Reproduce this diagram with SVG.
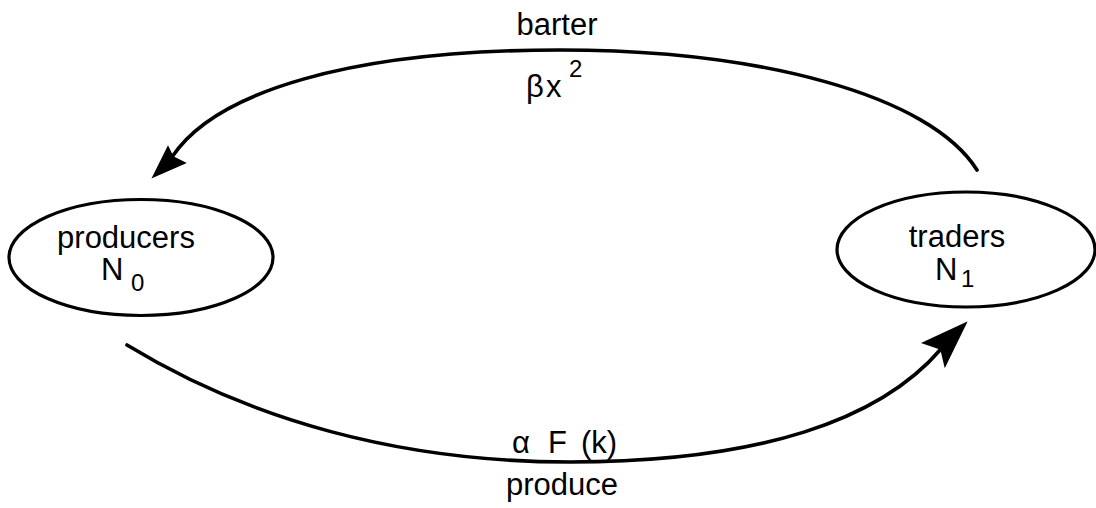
<svg xmlns="http://www.w3.org/2000/svg" width="1096" height="508" viewBox="0 0 1096 508">
<style>
.node{fill:none;stroke:#000;stroke-width:3.2}
.edge{fill:none;stroke:#000;stroke-width:3.6;stroke-linecap:round}
.head{fill:#000;stroke:#000;stroke-width:1.5;stroke-linejoin:miter}
text{font-family:"Liberation Sans",Arial,sans-serif;fill:#000}
.lbl{font-size:31px;text-anchor:middle}
.sub{font-size:24px}
</style>
<rect width="1096" height="508" fill="#fff"/>
<g id="producers">
<ellipse class="node" cx="141" cy="257.5" rx="132" ry="58"/>
<text class="lbl" x="126" y="248">producers</text>
<text x="101" y="280" font-size="31">N</text>
<text class="sub" x="131" y="291">0</text>
</g>
<g id="traders">
<ellipse class="node" cx="966" cy="249.5" rx="129" ry="57.5"/>
<text class="lbl" x="957" y="247">traders</text>
<text x="935" y="280" font-size="31">N</text>
<text class="sub" x="961" y="287">1</text>
</g>
<g id="connectors">
<g id="barter">
<path class="edge" d="M977,170 C930,95 760,50 560,50 C350,50 215,92 172,157"/>
<polygon class="head" points="153,177 168,147 173,157 185,163"/>
<text class="lbl" x="557" y="35">barter</text>
<text x="526" y="97" font-size="31">β</text>
<text x="546" y="97" font-size="31">x</text>
<text class="sub" x="569" y="77">2</text>
</g>
<g id="produce">
<path class="edge" d="M127,345 C250,420 400,462 570,462 C760,462 880,420 941,349"/>
<polygon class="head" points="966,323 923,343 941,349 945,366"/>
<text x="512" y="453" font-size="31">α</text>
<text x="548" y="453" font-size="31">F</text>
<text x="581" y="453" font-size="31">(k)</text>
<text class="lbl" x="562" y="495">produce</text>
</g>
</g>
</svg>
